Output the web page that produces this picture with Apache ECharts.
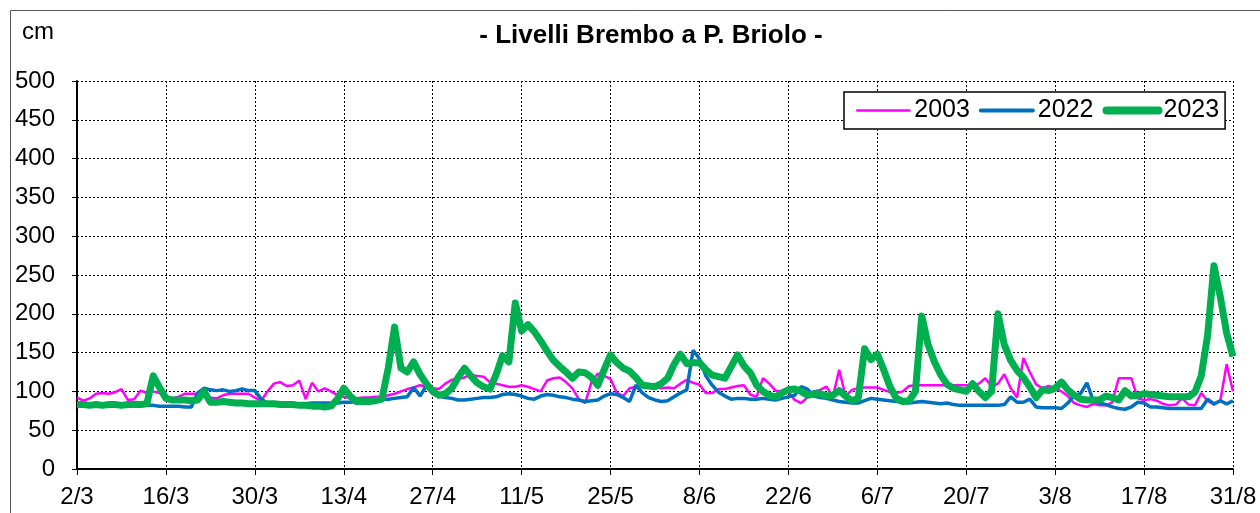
<!DOCTYPE html>
<html><head><meta charset="utf-8">
<script src="https://cdn.jsdelivr.net/npm/echarts@6/dist/echarts.min.js"></script>
<style>html,body{margin:0;padding:0;background:#fff}#c{width:1260px;height:513px}</style>
</head><body><div id="c"></div>
<script>
// Day labels 2/3 ... 31/8 (one category per day)
const startDay = {day: 2, month: 3};
const dayCount = 183;
const tickLabels = ['2/3','16/3','30/3','13/4','27/4','11/5','25/5','8/6','22/6','6/7','20/7','3/8','17/8','31/8'];
const seriesNames = ['2003','2022','2023'];

const y2003 = [92,88,91,97,98,97,99,103,89,90,101,98,100,98,94,91,93,97,97,97,
98,92,91,95,97,97,97,97,92,88,100,110,112,107,108,114,90,111,100,104,
100,95,93,91,91,92,92,93,93,95,97,100,103,105,108,106,104,103,110,115,
116,118,121,120,119,112,110,108,106,106,108,106,103,100,114,117,118,112,104,90,
85,112,123,120,116,98,94,104,106,106,107,105,104,105,104,110,115,111,109,98,
98,103,103,105,107,108,96,93,117,110,101,100,100,89,85,92,100,102,106,93,
128,94,102,104,105,105,105,102,99,98,100,107,108,108,108,108,108,108,108,108,
108,108,110,117,106,110,122,104,92,143,125,109,104,107,104,100,94,85,82,80,
84,82,82,86,117,117,117,91,89,90,88,84,82,83,91,83,82,98,88,83,
88,135,100];

const y2022 = [85,84,84,84,83,83,83,83,83,82,82,82,82,81,81,81,81,80,80,98,
104,102,101,102,100,101,103,101,101,90,85,85,85,84,84,84,84,85,85,85,
85,85,86,86,87,87,88,89,90,90,91,92,93,105,94,107,98,94,92,91,
89,89,90,91,92,92,93,96,97,96,94,91,90,94,96,95,93,92,90,89,
87,88,89,94,97,96,92,87,108,98,92,89,87,88,93,98,102,153,142,120,
108,99,94,90,91,91,90,90,91,90,89,91,93,95,106,103,94,92,91,89,
87,86,85,85,88,91,90,89,88,87,86,85,86,87,86,85,84,85,83,82,
82,82,82,82,82,82,83,93,86,86,90,80,79,79,79,78,85,95,97,111,
88,85,83,80,78,77,80,86,85,80,80,79,78,78,78,78,78,78,90,84,
88,84,88];

const y2023 = [83,83,82,83,82,83,83,82,83,83,
83,84,120,105,91,89,89,89,88,89,
100,86,86,87,86,85,85,84,84,84,
84,84,83,83,83,82,82,81,81,80,
81,90,104,94,87,87,87,88,90,130,
183,130,125,138,122,110,100,95,97,104,
118,130,120,111,106,103,122,146,138,214,
178,186,177,165,152,140,132,125,117,125,
124,118,108,128,147,137,130,126,118,108,
107,106,110,117,135,148,136,137,137,128,
121,119,117,132,147,133,124,108,100,95,
93,98,102,103,100,95,97,97,94,95,
101,94,88,91,155,141,148,128,106,91,
87,88,100,197,160,138,121,109,104,102,
100,110,100,92,100,200,160,140,127,118,
106,92,102,101,104,112,102,95,90,89,
89,89,94,92,89,101,94,95,97,96,
95,94,93,93,93,93,99,120,172,262,
222,175,145];

const categories = [];
(function(){
  const d0 = Date.UTC(2023, startDay.month - 1, startDay.day);
  for (let i = 0; i < dayCount; i++) {
    const d = new Date(d0 + i * 86400000);
    categories.push(d.getUTCDate() + '/' + (d.getUTCMonth() + 1));
  }
})();

const FONT = 'Liberation Sans, Arial, sans-serif';
const chart = echarts.init(document.getElementById('c'), null, {renderer: 'canvas'});
chart.setOption({
  animation: false,
  backgroundColor: '#ffffff',
  title: {
    text: '- Livelli Brembo a P. Briolo -',
    left: 646, top: 18, textAlign: 'center',
    textStyle: {fontFamily: FONT, fontSize: 26, fontWeight: 'bold', color: '#000'}
  },
  graphic: [
    {type: 'rect', shape: {x: 10.5, y: 10.5, width: 1270, height: 520},
     style: {fill: 'none', stroke: '#555', lineWidth: 1}, silent: true, z: -1},
    {type: 'text', left: 22, top: 20,
     style: {text: 'cm', font: '24px ' + FONT, fill: '#000'}}
  ],
  legend: {
    left: 844, top: 92,
    padding: [6, 6, 6, 12],
    itemGap: 9, itemWidth: 52, itemHeight: 14,
    borderColor: '#000', borderWidth: 1.5,
    backgroundColor: '#fff',
    itemStyle: {opacity: 0},
    textStyle: {fontFamily: FONT, fontSize: 25, color: '#000'},
    data: [
      {name: seriesNames[0], lineStyle: {width: 2.5, cap: 'round'}, itemStyle: {opacity: 0}},
      {name: seriesNames[1], lineStyle: {width: 4, cap: 'round'}, itemStyle: {opacity: 0}},
      {name: seriesNames[2], lineStyle: {width: 8, cap: 'round'}, itemStyle: {opacity: 0}}
    ]
  },
  grid: {left: 77, right: 27, top: 81, bottom: 44},
  xAxis: {
    type: 'category', data: categories, boundaryGap: false,
    axisLine: {lineStyle: {color: '#000', width: 2}},
    axisTick: {show: true, interval: 13, length: 6, inside: false, lineStyle: {color: '#000'}},
    axisLabel: {
      interval: 13, margin: 16, color: '#000', fontFamily: FONT, fontSize: 24,
      formatter: function (v, i) { return tickLabels[Math.round(i / 14)] || v; }
    },
    splitLine: {show: true, interval: 13, lineStyle: {color: '#000', type: [2, 2], width: 1}}
  },
  yAxis: {
    type: 'value', min: 0, max: 500, interval: 50,
    axisLine: {show: true, lineStyle: {color: '#000', width: 2}},
    axisTick: {show: true, length: 5, lineStyle: {color: '#000'}},
    axisLabel: {margin: 22, color: '#000', fontFamily: FONT, fontSize: 24},
    splitLine: {show: true, lineStyle: {color: '#000', type: [2, 2], width: 1}}
  },
  series: [
    {name: '2003', type: 'line', data: y2003, symbol: 'none', z: 2,
     lineStyle: {color: '#FF00FF', width: 2.5}, itemStyle: {color: '#FF00FF'}},
    {name: '2022', type: 'line', data: y2022, symbol: 'none', z: 3,
     lineStyle: {color: '#0070C0', width: 3.5}, itemStyle: {color: '#0070C0'}},
    {name: '2023', type: 'line', data: y2023, symbol: 'none', z: 4,
     lineStyle: {color: '#00B050', width: 7, join: 'round'}, itemStyle: {color: '#00B050'}}
  ]
});
</script>
</body></html>
